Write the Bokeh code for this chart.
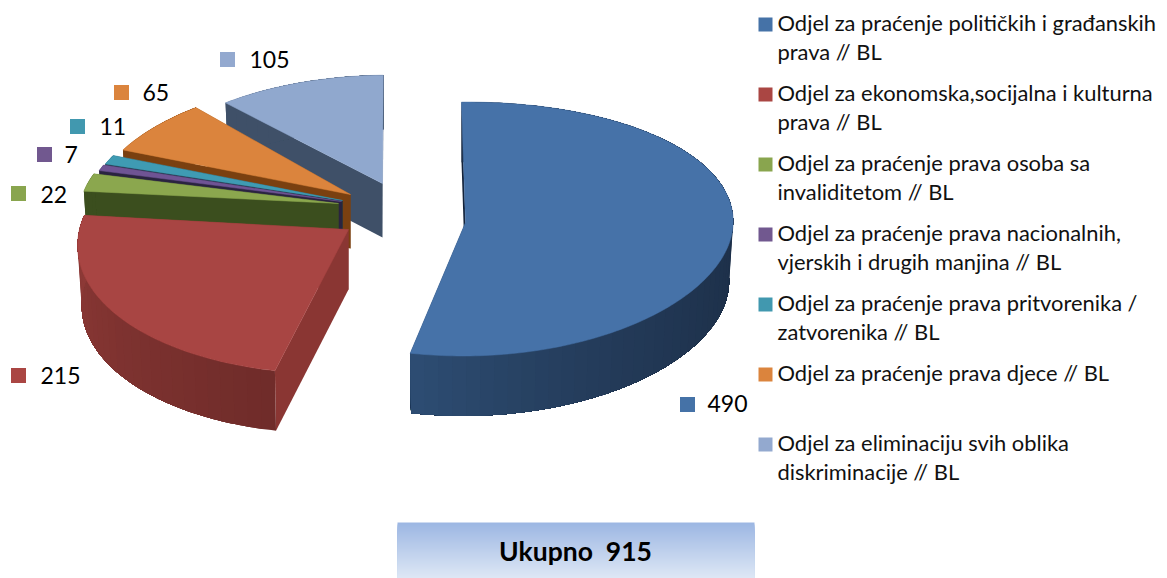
import math
from bokeh.plotting import figure
from bokeh.core.properties import value
from bokeh.embed import file_html
from bokeh.resources import INLINE

# ---- chart data ----
values = [490, 215, 22, 7, 11, 65, 105]
total_label = "Ukupno \u00a0915"
value_labels = ["490", "215", "22", "7", "11", "65", "105"]
legend_lines = [
    ["Odjel za praćenje političkih i građanskih", "prava // BL"],
    ["Odjel za ekonomska,socijalna i kulturna", "prava // BL"],
    ["Odjel za praćenje prava osoba sa", "invaliditetom // BL"],
    ["Odjel za praćenje prava nacionalnih,", "vjerskih i drugih manjina // BL"],
    ["Odjel za praćenje prava pritvorenika /", "zatvorenika // BL"],
    ["Odjel za praćenje prava djece // BL"],
    ["Odjel za eliminaciju svih oblika", "diskriminacije // BL"],
]
colors = ["#4572A7", "#AA4643", "#89A54E", "#71588F", "#4198AF", "#DB843D", "#93A9CF"]

# ---- layout / style (pixels of the page) ----
top_colors = ["#4672A8", "#A84543", "#8BA74E", "#6F5494", "#3F9BB3", "#DB843D", "#90A8CE"]
radial_colors = ["#14233A", "#8A3633", "#3B4E1E", "#2A2340", "#1E3040", "#7A4010", "#3F5068"]
wall_from = ["#1B2C44", "#702C2A", "#3B4E1E", "#2A2340", "#1E3040", "#7A4010", "#3F5068"]
wall_to = ["#2E4E74", "#8F3A37", "#3B4E1E", "#2A2340", "#1E3040", "#7A4010", "#3F5068"]
wall_pow = [3, 1, 1, 1, 1, 1, 1]
tip_x = [465, 348, 338, 341, 342, 350, 382]
tip_y = [222, 229, 203, 201, 200, 194, 183]
scale_x = [0.995, 1.0, 0.96, 0.953, 0.95, 0.955, 0.92]
scale_y = [1.0, 1.08, 0.94, 0.98, 0.98, 0.97, 0.90]
shear = [2.5, 18, 8, 10, 10, 18, 6.5]
depth = [60, 60, 60, 55, 55, 54, 54]
persp_x = [0.0, 1, 1, 1, 1, 1, 1]
draw_order = [6, 5, 4, 3, 2, 1, 0]
R, T, K = 269.0, 126.6, 0.0515
START = -1.4
marker_x = [687, 18, 18, 44, 77, 121, 227]
marker_y = [404, 375, 193, 154, 126, 92, 59]
label_x = [707, 40, 40, 64, 99, 142, 249]
label_y = [403, 375, 194, 154, 126, 92, 59]


def rim(i, a, wall=False):
    ph = math.radians(a)
    X, Y = math.sin(ph), math.cos(ph)
    s = 1 / (1 + K * Y)
    sx = 1 + (s - 1) * persp_x[i]
    x = X * R * scale_x[i] * sx + shear[i] * Y
    y = -Y * T * scale_y[i] * s
    if wall:
        return tip_x[i] + x * 0.985, tip_y[i] + y + depth[i]
    return tip_x[i] + x, tip_y[i] + y


def mix(c0, c1, t):
    a = [int(c0[j:j + 2], 16) for j in (1, 3, 5)]
    b = [int(c1[j:j + 2], 16) for j in (1, 3, 5)]
    return "#%02x%02x%02x" % tuple(round(u + (v - u) * t) for u, v in zip(a, b))


p = figure(width=1167, height=578, x_range=(0, 1167), y_range=(578, 0),
           output_backend="svg", toolbar_location=None, min_border=0,
           background_fill_color="white", border_fill_color="white")
p.axis.visible = False
p.grid.visible = False
p.outline_line_color = None

angles = [START]
tot = sum(values)
for v in values:
    angles.append(angles[-1] + 360.0 * v / tot)

for i in draw_order:
    a0, a1 = angles[i], angles[i + 1]
    n = max(int((a1 - a0) / 1.0), 3)
    steps = [a0 + (a1 - a0) * j / n for j in range(n + 1)]
    tx, ty = tip_x[i], tip_y[i]
    # radial faces
    for a in (a1, a0):
        r, rb = rim(i, a), rim(i, a, True)
        p.patch([tx, r[0], rb[0], tx], [ty, r[1], rb[1], ty + depth[i]],
                fill_color=radial_colors[i], line_color=None)
    # outer wall in shaded bands that overlap, so that no seams show
    band = 3
    for j in range(0, n, band):
        t = ((steps[j] - a0) / (a1 - a0)) ** wall_pow[i]
        c = mix(wall_from[i], wall_to[i], t)
        sel = steps[j:]
        ups = [rim(i, a) for a in sel]
        downs = [rim(i, a, True) for a in reversed(sel)]
        p.patch([q[0] for q in ups + downs], [q[1] for q in ups + downs],
                fill_color=c, line_color=None)
    # top face
    pts = [rim(i, a) for a in steps]
    p.patch([tx] + [q[0] for q in pts], [ty] + [q[1] for q in pts],
            fill_color=top_colors[i], line_color=top_colors[i], line_width=0.5)

# data labels with their square keys
p.rect(marker_x, marker_y, width=15, height=15, fill_color=colors, line_color=None)
p.text(label_x, label_y, text=value_labels, text_font=value("Lato"), text_font_size=value("23px"),
       text_baseline="middle", text_align="left", text_color="#000000")

# legend
ly = 24
for i, lines in enumerate(legend_lines):
    p.rect([765], [ly], width=14, height=14, fill_color=colors[i], line_color=None)
    p.text([777] * len(lines), [ly - 2 + 29 * k for k in range(len(lines))], text=lines,
           text_font=value("Lato"), text_font_size=value("21.9px"),
           text_baseline="middle", text_align="left", text_color="#111111")
    ly += 70

# total box with vertical gradient
BOX = (397, 754, 522, 578)
bands = 28
h = (BOX[3] - BOX[2]) / bands
for j in range(bands):
    c = mix("#9DB7E3", "#DDE7F5", j / (bands - 1))
    p.quad(left=[BOX[0]], right=[BOX[1]], top=[BOX[2] + j * h], bottom=[BOX[3]],
           fill_color=c, line_color=None)
p.text([575], [550], text=[total_label], text_font=value("Lato"), text_font_size=value("26.5px"),
       text_font_style="bold", text_baseline="middle", text_align="center", text_color="#000000")

open("out.html", "w").write(file_html(p, INLINE))
